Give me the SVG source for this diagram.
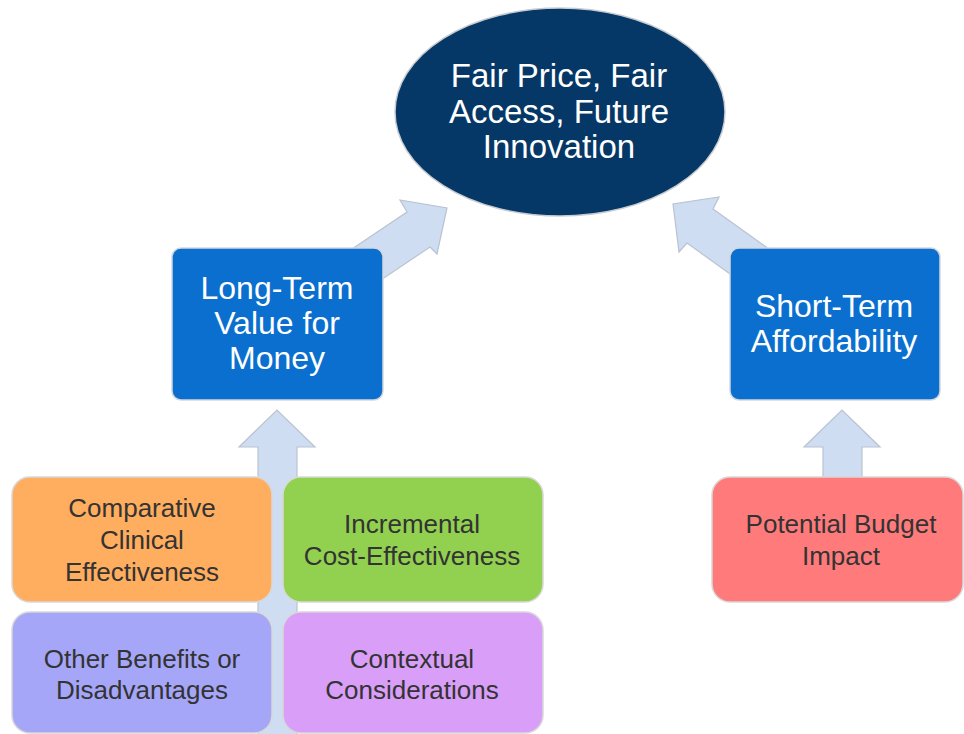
<svg xmlns="http://www.w3.org/2000/svg" width="964" height="734" viewBox="0 0 964 734">
<style>
.arrow{fill:#cfddf2;stroke:#b9c3d0;stroke-width:1.2;stroke-linejoin:miter}
.t{font-family:"Liberation Sans",Arial,sans-serif;text-anchor:middle}
.w{fill:#ffffff}
.d{fill:#333333;font-size:26px}
.blue{fill:#0a6fce;stroke:#d4d8de;stroke-width:1.5}
.soft{stroke:#d8d8d8;stroke-width:1.5}
</style>
<rect width="964" height="734" fill="#ffffff"/>
<g id="connectors">
<polygon class="arrow" points="349,251 407,212 400,200 447,208 437,254 430,247 372,286"/>
<polygon class="arrow" points="780,257 713,209 719,197 673,204 679,252 687,243 744,284"/>
<polygon class="arrow" points="258,740 258,447 239,447 277,410 315,447 297,447 297,740"/>
<polygon class="arrow" points="823,480 823,447 804,447 842,410 880,447 862,447 862,480"/>
</g>
<g id="goal">
<ellipse cx="560" cy="112" rx="165" ry="104" fill="#053866" stroke="#c8ccd2" stroke-width="1.5"/>
<text class="t w" font-size="33" x="559" y="87">Fair Price, Fair</text>
<text class="t w" font-size="33" x="559" y="123">Access, Future</text>
<text class="t w" font-size="33" x="559" y="158">Innovation</text>
</g>
<g id="long-term">
<rect class="blue" x="172" y="248" width="211" height="152" rx="9"/>
<text class="t w" font-size="32" x="277" y="299">Long-Term</text>
<text class="t w" font-size="32" x="277" y="334">Value for</text>
<text class="t w" font-size="32" x="277" y="369">Money</text>
</g>
<g id="short-term">
<rect class="blue" x="730" y="248" width="210" height="152" rx="9"/>
<text class="t w" font-size="32" x="834" y="317">Short-Term</text>
<text class="t w" font-size="32" x="834" y="352">Affordability</text>
</g>
<g id="comparative">
<rect class="soft" x="12" y="477" width="260" height="125" rx="18" fill="#ffad5e"/>
<text class="t d" x="142" y="517">Comparative</text>
<text class="t d" x="142" y="549">Clinical</text>
<text class="t d" x="142" y="581">Effectiveness</text>
</g>
<g id="incremental">
<rect class="soft" x="283" y="477" width="260" height="125" rx="18" fill="#92d050"/>
<text class="t d" x="412" y="533">Incremental</text>
<text class="t d" x="412" y="565">Cost-Effectiveness</text>
</g>
<g id="other-benefits">
<rect class="soft" x="12" y="612" width="260" height="121" rx="18" fill="#a5a6f8"/>
<text class="t d" x="142" y="668">Other Benefits or</text>
<text class="t d" x="142" y="699">Disadvantages</text>
</g>
<g id="contextual">
<rect class="soft" x="283" y="612" width="260" height="121" rx="18" fill="#d99ff8"/>
<text class="t d" x="412" y="668">Contextual</text>
<text class="t d" x="412" y="699">Considerations</text>
</g>
<g id="budget">
<rect class="soft" x="712" y="477" width="251" height="125" rx="18" fill="#ff7b7b"/>
<text class="t d" x="841" y="533">Potential Budget</text>
<text class="t d" x="841" y="565">Impact</text>
</g>
</svg>
